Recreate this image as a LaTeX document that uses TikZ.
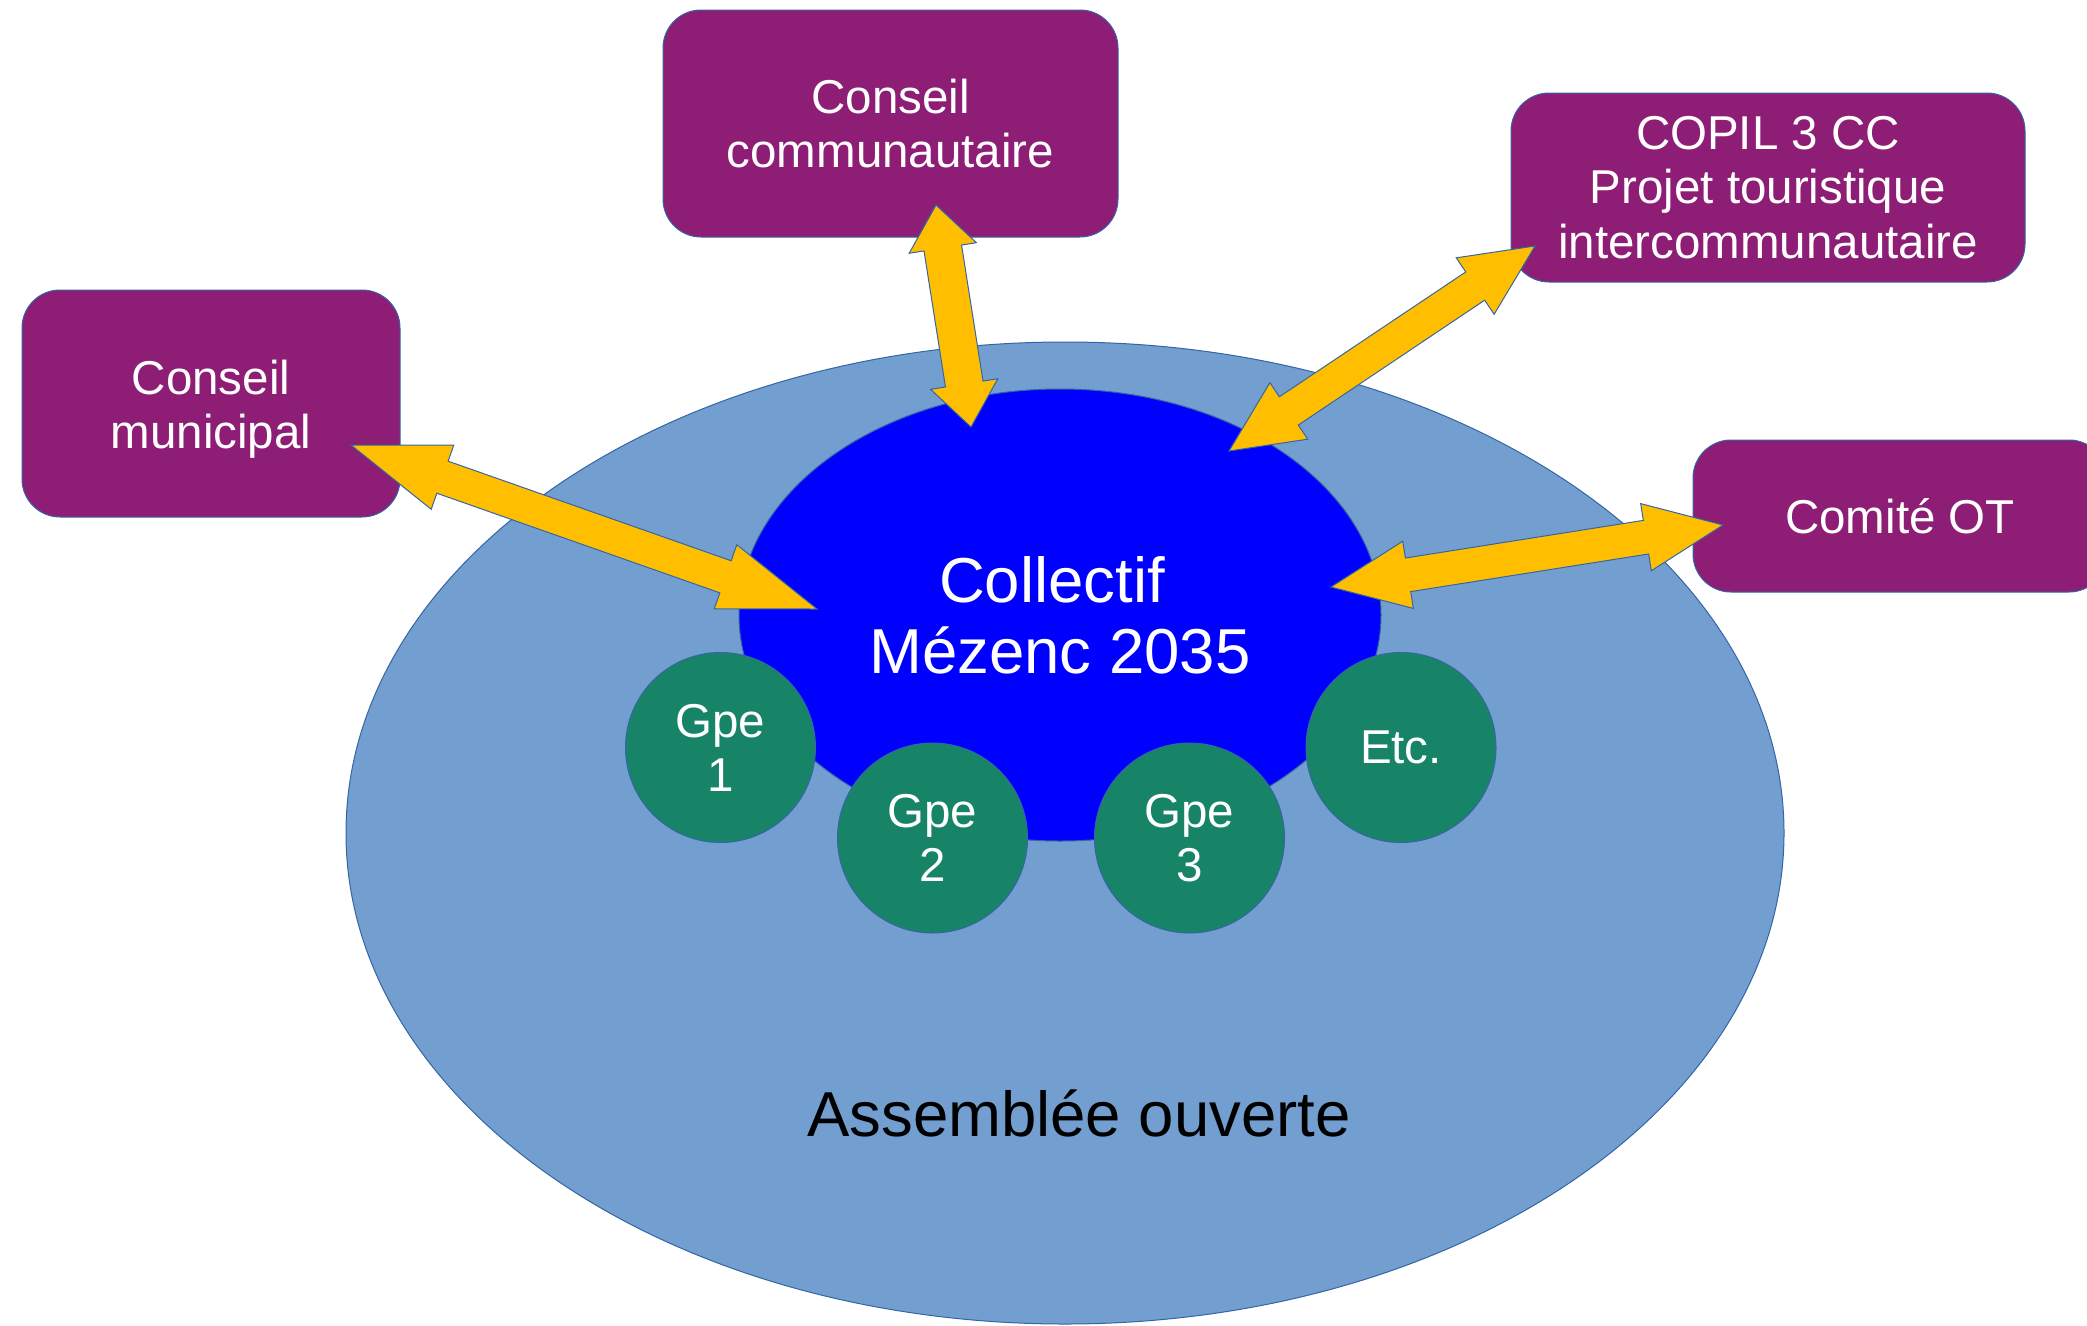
\documentclass[tikz,border=0pt]{standalone}
\usepackage{fontspec}
\setmainfont{Liberation Sans}
\usetikzlibrary{shapes.geometric,calc}
\definecolor{boxpurple}{HTML}{8D1D75}
\definecolor{outerblue}{HTML}{729FCF}
\definecolor{innerblue}{HTML}{0000FF}
\definecolor{grpgreen}{HTML}{188467}
\definecolor{arrowgold}{HTML}{FFBF00}
\definecolor{edgeblue}{HTML}{3465A4}
\newcommand\fatarrow[4]{%
  \filldraw[arrowstyle] (#1)
   -- ($(#1)!#3!(#2)!34pt!90:(#2)$)
   -- ($(#1)!#3!(#2)!#4!90:(#2)$)
   -- ($(#2)!#3!(#1)!#4!-90:(#1)$)
   -- ($(#2)!#3!(#1)!34pt!-90:(#1)$)
   -- (#2)
   -- ($(#2)!#3!(#1)!34pt!90:(#1)$)
   -- ($(#2)!#3!(#1)!#4!90:(#1)$)
   -- ($(#1)!#3!(#2)!#4!-90:(#2)$)
   -- ($(#1)!#3!(#2)!34pt!-90:(#2)$)
   -- cycle;}
\tikzset{
  edge/.style={draw=edgeblue, line width=1pt},
  purplebox/.style={edge, fill=boxpurple, rounded corners=38pt, inner sep=0pt,
     text=white, align=center, font=\fontsize{47.5}{54.5}\selectfont},
  groupdisc/.style={edge, fill=grpgreen, circle, minimum size=190pt, inner sep=0pt,
     text=white, align=center, font=\fontsize{47.5}{54}\selectfont},
  arrowstyle/.style={fill=arrowgold, draw=edgeblue, line width=1pt, line join=miter},
}
\begin{document}
\begin{tikzpicture}[x=1pt, y=-1pt]
\useasboundingbox (0,0) rectangle (2087,1325);
\clip (0,0) rectangle (2087,1325);
% big ellipse
\node[edge, fill=outerblue, ellipse, inner sep=0pt, minimum width=1438pt, minimum height=982pt] (assemblee) at (1065,833) {};
\node[anchor=base, font=\fontsize{63.5}{71}\selectfont] (assembleelabel) at (1079,1136) {Assemblée ouverte};
% inner ellipse
\node[edge, fill=innerblue, ellipse, inner sep=0pt, minimum width=642pt, minimum height=452pt,
      text=white, align=center, font=\fontsize{63.5}{71}\selectfont] (collectif) at (1060,615) {Collectif\hspace*{16pt}\\Mézenc 2035};
% groups
\node[groupdisc] (g1) at (720.5,747.5) {Gpe\\1};
\node[groupdisc] (g2) at (932.5,838) {Gpe\\2};
\node[groupdisc] (g3) at (1189.5,838) {Gpe\\3};
\node[groupdisc] (g4) at (1401,747.5) {Etc.};
% boxes
\node[purplebox, minimum width=378pt, minimum height=227pt] (municipal) at (211,403.5) {\rule{0pt}{45.5pt}Conseil\\municipal};
\node[purplebox, minimum width=455pt, minimum height=227pt] (communautaire) at (890.5,123.5) {Conseil\\communautaire};
\node[purplebox, minimum width=514pt, minimum height=189pt] (copil) at (1768,187.5) {COPIL 3 CC\\Projet touristique\\intercommunautaire};
\node[purplebox, minimum width=414pt, minimum height=152pt] (comite) at (1900,516) {Comité OT};
% arrow end points
\coordinate (a1) at (351,445);  \coordinate (a2) at (817,609);
\coordinate (b1) at (936,205);  \coordinate (b2) at (971,427);
\coordinate (c1) at (1535,246); \coordinate (c2) at (1229,451);
\coordinate (d1) at (1723,525); \coordinate (d2) at (1331,587);
\fatarrow{a1}{a2}{97pt}{17pt}
\fatarrow{b1}{b2}{43.5pt}{19pt}
\fatarrow{c1}{c2}{72pt}{17pt}
\fatarrow{d1}{d2}{78pt}{17pt}
\end{tikzpicture}
\end{document}
